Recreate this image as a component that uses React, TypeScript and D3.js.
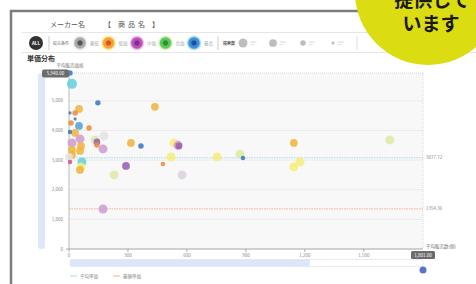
import React from 'react';
import * as d3 from 'd3';

// sales qty (x), average price (y), search count (size), colour group
const salesQty = [5, 15, 147, 437, 5, 51, 31, 31, 10, 51, 102, 31, 5, 178, 132, 56, 15, 142, 142, 315, 366, 173, 61, 56, 15, 15, 0, 5, 66, 61, 56, 290, 229, 173, 534, 555, 559, 478, 519, 753, 870, 885, 575, 1144, 1175, 1144, 1449, 1632];
const avgPrice = [5940, 5574, 4932, 4797, 4594, 4729, 4594, 4391, 4256, 4155, 4087, 3919, 3952, 3817, 3682, 3716, 3581, 3615, 3513, 3581, 3479, 3378, 3479, 3310, 3344, 3175, 3108, 2939, 2939, 2770, 2669, 2804, 2500, 1351, 3581, 3500, 3479, 2871, 3108, 3108, 3209, 3074, 2500, 3581, 2939, 2770, 5405, 3682];
const searchCount = [60, 200, 60, 120, 20, 120, 60, 20, 60, 120, 60, 120, 40, 160, 160, 160, 160, 90, 60, 120, 60, 160, 120, 120, 120, 120, 120, 40, 160, 160, 120, 120, 160, 160, 160, 160, 90, 40, 160, 160, 160, 40, 160, 120, 160, 160, 160, 160];
const colorKey = ['blue', 'teal', 'blue', 'gold', 'blue', 'gold', 'orange', 'blue', 'orange', 'sky', 'orange', 'gold', 'blue', 'grey', 'green', 'pink', 'pink', 'purple', 'orange', 'gold', 'blue', 'pink', 'gold', 'gold', 'gold', 'gold', 'grey', 'magenta', 'teal', 'yellow', 'gold', 'purple', 'green', 'pink', 'yellow', 'pink', 'purple', 'orange', 'yellow', 'yellow', 'green', 'blue', 'lavender', 'gold', 'yellow', 'yellow', 'white', 'green'];

const xTicks = [0, 300, 600, 900, 1200, 1500];
const yTicks = [0, 1000, 2000, 3000, 4000, 5000];
const xMax = 1801;
const yMax = 5940;
const avgLine = 3077.72;
const modeLine = 1354.36;

const filterLabels = ['最低', '低価', '中価', '高価', '最高'];
const filterRings = [
  ['#555', '#aaa', '#e6e6e6'],
  ['#d9531e', '#f3a23a', '#f8e27a'],
  ['#7a2f90', '#c04fb8', '#e2b4e4'],
  ['#2f8f2f', '#5cc85c', '#c8ecb0'],
  ['#1f4fa0', '#3f8fd8', '#9ad8f0'],
];
const sizeLegend = [160, 120, 60, 20];

const palette: Record<string, string> = {
  blue: '#3b78c2',
  sky: '#56a2d8',
  teal: '#63d0de',
  gold: '#f0b43e',
  orange: '#ef8a3a',
  yellow: '#f6ec7c',
  green: '#dde9a6',
  grey: '#e3e3e3',
  pink: '#cf9ccf',
  purple: '#9760b3',
  magenta: '#d2508a',
  lavender: '#ddd0e0',
  white: '#f6f6f6',
};

const font = '"Noto Sans CJK JP", "Noto Sans", sans-serif';

export default function App() {
  const left = 69, right = 423, top = 73, bottom = 249;
  const x = d3.scaleLinear().domain([0, xMax]).range([left, right]);
  const y = d3.scaleLinear().domain([0, yMax]).range([bottom, top]);
  const r = d3.scaleSqrt().domain([0, 200]).range([0, 5]);
  const fmt = d3.format(',');
  const points = salesQty.map((v, i) => ({ x: v, y: avgPrice[i], s: searchCount[i], c: colorKey[i] }));

  return (
    <svg width={476} height={284} style={{ position: 'fixed', left: 0, top: 0, background: '#fff' }} fontFamily={font}>
      <defs>
        {filterRings.map((c, i) => (
          <radialGradient key={i} id={`ring${i}`}>
            <stop offset="0%" stopColor={c[0]} />
            <stop offset="28%" stopColor={c[0]} />
            <stop offset="42%" stopColor={c[1]} />
            <stop offset="68%" stopColor={c[1]} />
            <stop offset="82%" stopColor={c[2]} />
            <stop offset="100%" stopColor={c[2]} stopOpacity={0.3} />
          </radialGradient>
        ))}
      </defs>

      {/* frame */}
      <path d="M11,284 V11 H476" fill="none" stroke="#7c7c7c" strokeWidth={2.5} />

      {/* title */}
      <text x={50} y={27} fontSize={7} fill="#555">メーカー名</text>
      <text x={104} y={27} fontSize={7} fill="#555">【</text>
      <text x={118} y={27} fontSize={7} fill="#555" letterSpacing={3}>商品名</text>
      <text x={152} y={27} fontSize={7} fill="#555">】</text>

      {/* filter row */}
      <line x1={22} x2={476} y1={32.5} y2={32.5} stroke="#e6e6e6" />
      <line x1={22} x2={476} y1={52.5} y2={52.5} stroke="#e6e6e6" />
      <circle cx={36} cy={43} r={7} fill="#333" />
      <text x={36} y={45} fontSize={4.5} fill="#fff" textAnchor="middle" fontWeight="bold">ALL</text>
      <line x1={49} x2={49} y1={36} y2={50} stroke="#ccc" />
      <text x={53} y={44.5} fontSize={4} fill="#666">絞込条件</text>
      {filterRings.map((_, i) => (
        <g key={i} transform={`translate(${80 + i * 28.5},43)`}>
          <circle r={7.5} fill={`url(#ring${i})`} />
          <text x={10} y={2} fontSize={4.5} fill="#aaa">{filterLabels[i]}</text>
        </g>
      ))}
      <line x1={218} x2={218} y1={36} y2={50} stroke="#ccc" />
      <text x={223} y={44.5} fontSize={4} fill="#555" fontWeight="bold">検索数</text>
      {sizeLegend.map((v, i) => (
        <g key={i} transform={`translate(${243 + i * 30},43)`}>
          <circle r={r(v)} fill="#bdbdbd" />
          <line x1={r(v) + 3} x2={r(v) + 9} y1={-1} y2={-1} stroke="#ccc" strokeWidth={0.8} />
          <line x1={r(v) + 3} x2={r(v) + 7} y1={1.5} y2={1.5} stroke="#ddd" strokeWidth={0.8} />
        </g>
      ))}
      <line x1={357} x2={357} y1={36} y2={50} stroke="#ddd" />

      <text x={27} y={61} fontSize={7} fill="#333" fontWeight="bold">単価分布</text>

      {/* plot background and grid */}
      <rect x={left} y={top} width={right - left} height={bottom - top} fill="#f8f8f9" />
      {yTicks.map(t => (
        <g key={t}>
          <line x1={left} x2={right} y1={y(t)} y2={y(t)} stroke="#e9e9ee" strokeWidth={0.8} />
          <text x={left - 6} y={y(t) + 1.5} fontSize={4.5} fill="#888" textAnchor="end">{fmt(t)}</text>
        </g>
      ))}
      <line x1={42} x2={right} y1={top} y2={top} stroke="#d4d6e6" strokeDasharray="1,1" />
      <line x1={right} x2={right} y1={top} y2={bottom} stroke="#d4d6e6" strokeDasharray="1,1" />
      <line x1={left} x2={left} y1={top} y2={bottom} stroke="#aaa" strokeWidth={0.8} />
      <line x1={left - 3} x2={right} y1={bottom} y2={bottom} stroke="#999" strokeWidth={0.8} />
      {xTicks.map(t => (
        <g key={t}>
          <line x1={x(t)} x2={x(t)} y1={bottom} y2={bottom + 3} stroke="#999" strokeWidth={0.8} />
          <text x={x(t)} y={bottom + 8} fontSize={4.5} fill="#888" textAnchor="middle">{fmt(t)}</text>
        </g>
      ))}
      <text x={70} y={67} fontSize={4.5} fill="#777" textAnchor="middle">平均販売価格</text>
      <text x={426} y={248} fontSize={4.5} fill="#777">平均販売数(個)</text>

      {/* reference lines */}
      <line x1={left} x2={right} y1={y(avgLine)} y2={y(avgLine)} stroke="#8fd3e6" strokeWidth={0.8} strokeDasharray="1.5,1" />
      <text x={426} y={y(avgLine) + 1.5} fontSize={4.5} fill="#888">{avgLine}</text>
      <line x1={left} x2={right} y1={y(modeLine)} y2={y(modeLine)} stroke="#f0a070" strokeWidth={0.8} strokeDasharray="1.5,1" />
      <text x={426} y={y(modeLine) + 1.5} fontSize={4.5} fill="#888">{modeLine}</text>

      {/* points */}
      {points.map((p, i) => (
        <circle key={i} cx={x(p.x)} cy={y(p.y)} r={r(p.s)} fill={palette[p.c]} fillOpacity={0.88} />
      ))}

      {/* zoom sliders */}
      <rect x={38} y={top} width={7} height={bottom - top} rx={3} fill="#dfe6f7" />
      <rect x={42} y={69.5} width={27} height={8} rx={2} fill="#6b6b6b" />
      <text x={55.5} y={75} fontSize={4.5} fill="#fff" textAnchor="middle">{d3.format(',.2f')(yMax)}</text>
      <rect x={left + 1} y={259.5} width={right - left - 1} height={7} rx={1.5} fill="#fff" stroke="#e2e6f2" strokeWidth={0.8} />
      <rect x={left + 1} y={259.5} width={x(1220) - left} height={7} rx={1.5} fill="#dde6f8" />
      <rect x={411} y={251} width={24} height={8} rx={1.5} fill="#6b6b6b" />
      <text x={423} y={256.5} fontSize={4.5} fill="#fff" textAnchor="middle">{d3.format(',.2f')(xMax)}</text>
      <circle cx={423} cy={270} r={3.5} fill="#5a72c8" />

      {/* bottom legend */}
      <line x1={70} x2={77} y1={276} y2={276} stroke="#8fd3e6" strokeWidth={0.8} />
      <text x={80} y={277.5} fontSize={4.5} fill="#888">平均単価</text>
      <line x1={113} x2={120} y1={276} y2={276} stroke="#f0a070" strokeWidth={0.8} />
      <text x={123} y={277.5} fontSize={4.5} fill="#888">最頻単価</text>

      {/* badge */}
      <circle cx={428} cy={-8} r={73} fill="#dcdc12" />
      <text x={432} y={7} fontSize={19} fontWeight="bold" fill="#1a1a1a" textAnchor="middle">提供して</text>
      <text x={431} y={31} fontSize={19} fontWeight="bold" fill="#1a1a1a" textAnchor="middle">います</text>
    </svg>
  );
}
